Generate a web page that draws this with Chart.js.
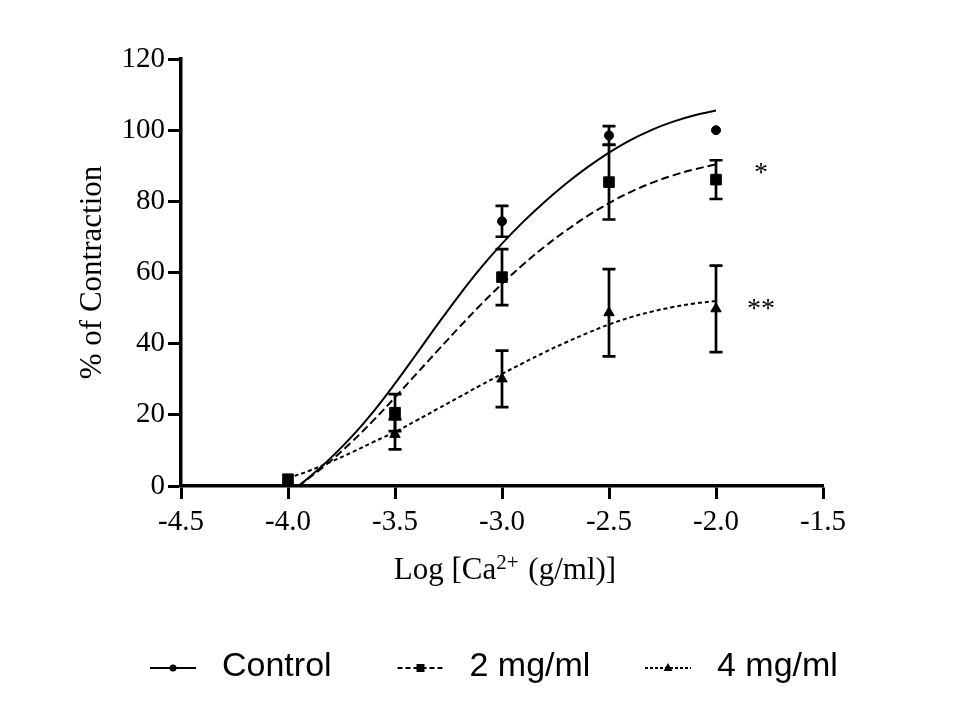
<!DOCTYPE html>
<html><head><meta charset="utf-8">
<script src="https://cdn.jsdelivr.net/npm/chart.js@4.4.1/dist/chart.umd.min.js"></script>
<style>html,body{margin:0;padding:0;background:#fff;}canvas{display:block;}</style>
</head><body>
<canvas id="c" width="960" height="720"></canvas>
<script>
// ---- data ----
const doseX = [-4.0, -3.5, -3.0, -2.5, -2.0];
const controlMean = [1.5, 20.5, 74.4, 98.5, 100];
const controlSem  = [0, 0, 4.35, 2.65, 0];
const dose2Mean   = [1.9, 20.6, 58.7, 85.4, 86.1];
const dose2Sem    = [0, 5.2, 7.85, 10.5, 5.45];
const dose4Mean   = [1.5, 14.5, 30.1, 48.7, 49.8];
const dose4Sem    = [0, 4.2, 7.95, 12.25, 12.15];

// fitted curves
const curveX       = [-4.0, -3.9, -3.8, -3.7, -3.6, -3.5, -3.4, -3.3, -3.2, -3.1, -3.0, -2.9, -2.8, -2.7, -2.6, -2.5, -2.4, -2.3, -2.2, -2.1, -2.0];
const controlCurve = [-2.5, 2.5, 7.9, 14.0, 21.0, 28.8, 37.1, 45.5, 53.6, 61.2, 68.1, 74.3, 79.9, 85.0, 89.6, 93.7, 97.2, 100.1, 102.4, 104.2, 105.5];
const dose2Curve   = [-2.0, 2.3, 7.1, 12.5, 18.5, 24.9, 31.5, 38.1, 44.6, 50.9, 56.8, 62.3, 67.3, 71.8, 75.9, 79.5, 82.6, 85.2, 87.3, 89.0, 90.4];
const dose4Curve   = [2.2, 4.3, 6.8, 9.5, 12.4, 15.2, 18.4, 21.7, 25.0, 28.3, 31.5, 34.6, 37.6, 40.4, 43.0, 45.4, 47.4, 49.0, 50.3, 51.3, 52.0];

const xTicks = [-4.5, -4.0, -3.5, -3.0, -2.5, -2.0, -1.5];
const yTicks = [0, 20, 40, 60, 80, 100, 120];
const seriesNames = ['Control', '2 mg/ml', '4 mg/ml'];
const sigMarks = ['', '*', '**'];
const xTitleParts = ['Log [Ca', '2+', ' (g/ml)]'];
const yTitle = '% of Contraction';

// ---- styles ----
const SERIF = '"Liberation Serif", "Times New Roman", serif';
const SANS = '"Liberation Sans", Arial, sans-serif';
const styles = [
  {dash: [], legendDash: [], point: 'circle', r: 4.5},
  {dash: [8, 4], legendDash: [5, 3], point: 'rect', r: 7.5},
  {dash: [4, 3], legendDash: [3, 2], point: 'triangle', r: 6}
];
const means = [controlMean, dose2Mean, dose4Mean];
const sems = [controlSem, dose2Sem, dose4Sem];
const curves = [controlCurve, dose2Curve, dose4Curve];

const datasets = [];
curves.forEach((c, s) => {
  datasets.push({
    label: seriesNames[s] + ' fit',
    data: curveX.map((x, i) => ({x, y: c[i]})),
    showLine: true, borderColor: '#000', borderWidth: 2, borderDash: styles[s].dash,
    pointRadius: 0, tension: 0.4, fill: false, order: 2
  });
});
means.forEach((m, s) => {
  datasets.push({
    label: seriesNames[s],
    data: doseX.map((x, i) => ({x, y: m[i]})),
    showLine: false, pointStyle: styles[s].point, pointRadius: styles[s].r,
    backgroundColor: '#000', borderColor: '#000', borderWidth: 1, order: 1
  });
});

const extras = {
  id: 'extras',
  afterDatasetsDraw(chart) {
    const {ctx, scales: {x, y}, chartArea} = chart;
    ctx.save();
    // error bars
    ctx.strokeStyle = '#000'; ctx.lineWidth = 2.7; ctx.setLineDash([]);
    means.forEach((m, s) => {
      doseX.forEach((dx, i) => {
        const e = sems[s][i];
        if (!e) return;
        const px = x.getPixelForValue(dx);
        const t = y.getPixelForValue(m[i] + e), b = y.getPixelForValue(m[i] - e);
        ctx.beginPath();
        ctx.moveTo(px, t); ctx.lineTo(px, b);
        ctx.moveTo(px - 6.5, t); ctx.lineTo(px + 6.5, t);
        ctx.moveTo(px - 6.5, b); ctx.lineTo(px + 6.5, b);
        ctx.stroke();
      });
    });
    // significance marks next to the end of each fitted curve
    ctx.fillStyle = '#000';
    ctx.font = '28px ' + SERIF; ctx.textAlign = 'center'; ctx.textBaseline = 'middle';
    sigMarks.forEach((t, s) => {
      if (!t) return;
      const last = curveX.length - 1;
      ctx.fillText(t, x.getPixelForValue(curveX[last]) + 45, y.getPixelForValue(curves[s][last]) + 9);
    });
    // x title with superscript
    const big = '31px ' + SERIF, small = '21px ' + SERIF;
    ctx.textAlign = 'left'; ctx.textBaseline = 'alphabetic';
    ctx.font = big; const w0 = ctx.measureText(xTitleParts[0]).width, w2 = ctx.measureText(xTitleParts[2]).width;
    ctx.font = small; const w1 = ctx.measureText(xTitleParts[1]).width + 2;
    let tx = (chartArea.left + chartArea.right) / 2 + 3 - (w0 + w1 + w2) / 2;
    const base = chartArea.bottom + 93;
    ctx.font = big; ctx.fillText(xTitleParts[0], tx, base); tx += w0;
    ctx.font = small; ctx.fillText(xTitleParts[1], tx, base - 10); tx += w1;
    ctx.font = big; ctx.fillText(xTitleParts[2], tx, base);
    // legend
    const ly = 668, colW = 247.5, startX = 150;
    seriesNames.forEach((name, s) => {
      const x0 = startX + s * colW;
      ctx.lineWidth = 2; ctx.setLineDash(styles[s].legendDash);
      ctx.beginPath(); ctx.moveTo(x0, ly); ctx.lineTo(x0 + 46, ly); ctx.stroke();
      ctx.setLineDash([]);
      const cx = x0 + 23;
      ctx.beginPath();
      if (styles[s].point === 'circle') { ctx.arc(cx, ly, 3.5, 0, Math.PI * 2); }
      else if (styles[s].point === 'rect') { ctx.rect(cx - 4, ly - 4, 8, 8); }
      else { ctx.moveTo(cx, ly - 5); ctx.lineTo(cx + 4.5, ly + 3); ctx.lineTo(cx - 4.5, ly + 3); ctx.closePath(); }
      ctx.fill();
      ctx.font = '34px ' + SANS; ctx.textBaseline = 'middle'; ctx.textAlign = 'left';
      ctx.fillText(name, x0 + 72, ly - 1);
    });
    ctx.restore();
  }
};

const axisCommon = {
  grid: {drawOnChartArea: false, drawTicks: true, tickLength: 13, tickWidth: 3, color: '#000', tickColor: '#000'},
  border: {display: true, width: 3.5, color: '#000'}
};

new Chart(document.getElementById('c'), {
  type: 'scatter',
  data: {datasets},
  options: {
    responsive: false, animation: false, devicePixelRatio: 1,
    layout: {padding: {top: 59, right: 137, bottom: 100, left: 0}},
    plugins: {legend: {display: false}, tooltip: {enabled: false}},
    scales: {
      x: Object.assign({}, axisCommon, {
        type: 'linear', min: xTicks[0], max: xTicks[xTicks.length - 1],
        afterBuildTicks: s => { s.ticks = xTicks.map(v => ({value: v})); },
        ticks: {callback: v => Number(v).toFixed(1), font: {family: SERIF, size: 29}, color: '#000', padding: 6, maxRotation: 0, autoSkip: false},
        afterFit: s => { s.height = 134; }
      }),
      y: Object.assign({}, axisCommon, {
        type: 'linear', min: yTicks[0], max: yTicks[yTicks.length - 1],
        afterBuildTicks: s => { s.ticks = yTicks.map(v => ({value: v})); },
        ticks: {font: {family: SERIF, size: 29}, color: '#000', padding: 3, autoSkip: false},
        title: {display: true, text: yTitle, font: {family: SERIF, size: 31}, color: '#000', padding: {top: 74, bottom: 0}},
        afterFit: s => { s.width = 181; }
      })
    }
  },
  plugins: [extras]
});
</script>
</body></html>
